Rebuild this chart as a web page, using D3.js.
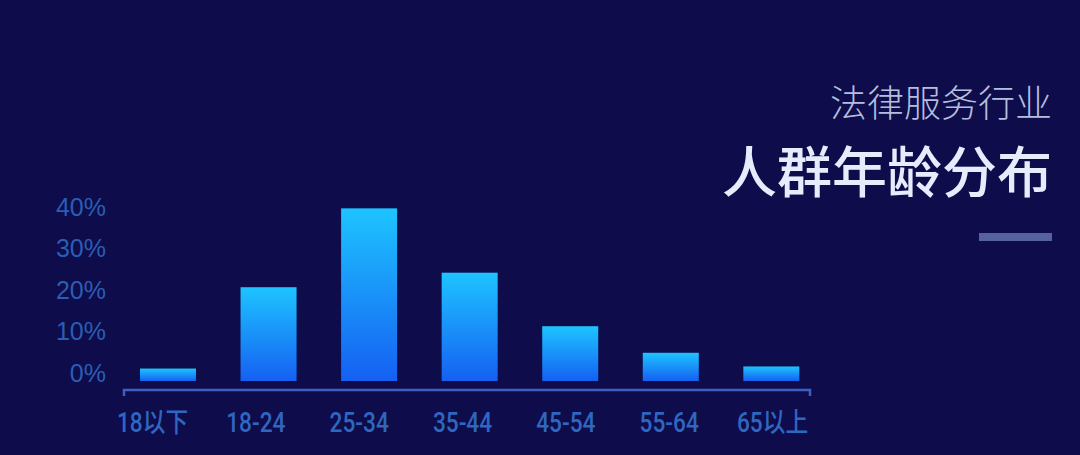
<!DOCTYPE html>
<html>
<head>
<meta charset="utf-8">
<script src="https://cdn.jsdelivr.net/npm/d3@7"></script>
<style>
  html, body { margin: 0; padding: 0; background: #0e0c4b; }
  svg { display: block; }
</style>
</head>
<body>
<div id="chart"></div>
<script>
// ── Data ──────────────────────────────────────────────────────────────────────
const CATEGORIES = ["18以下", "18-24", "25-34", "35-44", "45-54", "55-64", "65以上"];
const VALUES     = [3.0, 22.6, 41.6, 26.1, 13.2, 6.8, 3.5];
const Y_TICKS    = [0, 10, 20, 30, 40];
const SUBTITLE   = "法律服务行业";
const TITLE      = "人群年龄分布";

// ── Dimensions ────────────────────────────────────────────────────────────────
const W = 1080, H = 455;
const baseY = 381;   // bar baseline
const axisY = 390;   // axis line

const svg = d3.select("#chart")
  .append("svg")
  .attr("width", W)
  .attr("height", H);

svg.append("rect").attr("width", W).attr("height", H).attr("fill", "#0e0c4b");

// gradient for bars
const defs = svg.append("defs");
const grad = defs.append("linearGradient")
  .attr("id", "barGrad")
  .attr("x1", 0).attr("y1", 0).attr("x2", 0).attr("y2", 1);
grad.append("stop").attr("offset", "0%").attr("stop-color", "#1ec4ff");
grad.append("stop").attr("offset", "100%").attr("stop-color", "#1560f2");

// ── Scales ────────────────────────────────────────────────────────────────────
const xScale = d3.scaleBand()
  .domain(CATEGORIES)
  .range([124, 810])
  .paddingInner(0.443)
  .paddingOuter(0.1325)
  .align(0.6);

const labelScale = d3.scalePoint()
  .domain(CATEGORIES)
  .range([152, 772]);

const yScale = d3.scaleLinear()
  .domain([0, 40])
  .range([baseY, baseY - 166]);

// ── Bars ──────────────────────────────────────────────────────────────────────
svg.append("g")
  .selectAll("rect")
  .data(VALUES)
  .join("rect")
  .attr("x", (d, i) => xScale(CATEGORIES[i]))
  .attr("width", xScale.bandwidth())
  .attr("y", d => yScale(d))
  .attr("height", d => baseY - yScale(d))
  .attr("fill", "url(#barGrad)");

// ── X axis ────────────────────────────────────────────────────────────────────
const xAxisG = svg.append("g")
  .attr("transform", `translate(0,${axisY})`)
  .call(d3.axisBottom(labelScale).tickSize(0).tickSizeOuter(0).tickPadding(0));

xAxisG.select(".domain").remove();
xAxisG.append("path")
  .attr("d", `M124,6V0H810V6`)
  .attr("fill", "none")
  .attr("stroke", "#3f5fbf")
  .attr("stroke-width", 2.5);

xAxisG.selectAll(".tick text")
  .attr("y", 42)
  .attr("dy", 0)
  .attr("transform", "scale(0.84,1)")
  .attr("fill", "#2f67c0")
  .style("font-family", "Roboto, 'DejaVu Sans', 'Noto Sans CJK SC', sans-serif")
  .style("font-size", "27px")
  .style("font-weight", "500");

// ── Y axis (labels only) ──────────────────────────────────────────────────────
const yAxisG = svg.append("g")
  .attr("transform", "translate(106,-8)")
  .call(d3.axisLeft(yScale).tickValues(Y_TICKS).tickFormat(d => d + "%").tickSize(0).tickPadding(0));

yAxisG.select(".domain").remove();
yAxisG.selectAll(".tick text")
  .attr("fill", "#2a5db4")
  .style("font-family", "'Liberation Sans', Arial, sans-serif")
  .style("font-size", "25px");

// ── Titles ────────────────────────────────────────────────────────────────────
svg.append("text")
  .attr("x", 1052).attr("y", 117)
  .attr("text-anchor", "end")
  .attr("fill", "#b4bedc")
  .style("font-family", "'Noto Sans CJK SC', sans-serif")
  .style("font-size", "37px")
  .style("font-weight", "300")
  .text(SUBTITLE);

svg.append("text")
  .attr("x", 1052).attr("y", 192)
  .attr("text-anchor", "end")
  .attr("fill", "#e6ecfb")
  .style("font-family", "'Noto Sans CJK SC', sans-serif")
  .style("font-size", "55px")
  .style("font-weight", "500")
  .text(TITLE);

svg.append("rect")
  .attr("x", 979).attr("y", 233)
  .attr("width", 73).attr("height", 8)
  .attr("fill", "#5661a0");
</script>
</body>
</html>
